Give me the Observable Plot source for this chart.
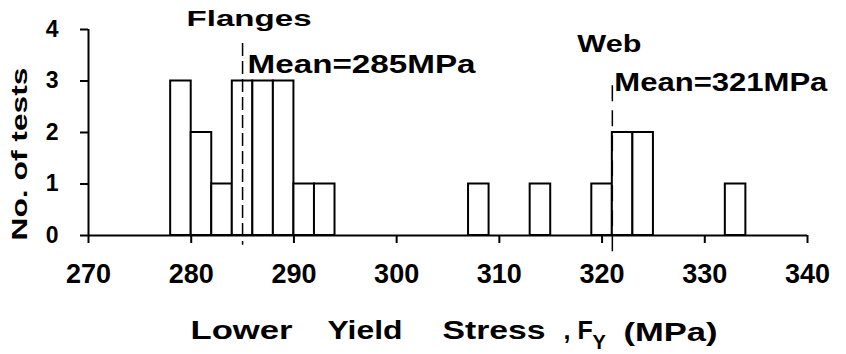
<!DOCTYPE html>
<html>
<head>
<meta charset="utf-8">
<script src="https://cdn.jsdelivr.net/npm/d3@7"></script>
<script src="https://cdn.jsdelivr.net/npm/@observablehq/plot@0.6"></script>
<style>
  html, body { margin: 0; padding: 0; background: white; }
</style>
</head>
<body>
<div id="chart"></div>
<script>
// ---- data ----
const binStart = [278, 280, 282, 284, 286, 288, 290, 292, 307, 313, 319, 321, 323, 332];
const counts   = [3, 2, 1, 3, 3, 3, 1, 1, 1, 1, 1, 2, 2, 1];
const binWidth = 2;
const groups = ["Flanges", "Web"];
const means = [285, 321];
const meanLabels = ["Mean=285MPa", "Mean=321MPa"];
const xTicks = [270, 280, 290, 300, 310, 320, 330, 340];
const yTicks = [0, 1, 2, 3, 4];
const xTitleParts = ["Lower", "Yield", "Stress", ",", "F", "Y", "(MPa)"];
const yTitle = "No. of tests";

const bars = binStart.map((s, i) => ({start: s, end: s + binWidth, count: counts[i]}));

const font = "'Liberation Sans', Arial, Helvetica, sans-serif";

// layout of the x title pieces: [dx from frame left, dy from frame bottom, fontSize]
const titleLayout = [
  [102, 103, 25], [239, 103, 25], [354, 103, 25], [475, 103, 25],
  [489, 103, 25], [504, 113, 20], [535, 105, 25]
];

const xTitleMarks = xTitleParts.map((t, i) => Plot.text([t], {
  frameAnchor: "bottom-left",
  dx: titleLayout[i][0], dy: titleLayout[i][1],
  fontSize: titleLayout[i][2], fontWeight: "bold",
  textAnchor: "start", lineAnchor: "bottom", fill: "black"
}));

const chart = Plot.plot({
  width: 846,
  height: 354,
  marginLeft: 88,
  marginRight: 39,
  marginTop: 29,
  marginBottom: 119,
  style: {fontFamily: font, background: "white", color: "black"},
  x: {domain: [270, 340]},
  y: {domain: [0, 4]},
  marks: [
    Plot.rectY(bars, {x1: "start", x2: "end", y: "count", fill: "white", stroke: "black", strokeWidth: 2}),
    Plot.ruleY([0], {x1: 270, x2: 340, stroke: "black", strokeWidth: 2}),
    Plot.ruleX([270], {y1: 0, y2: 4, stroke: "black", strokeWidth: 2}),
    Plot.axisX({ticks: xTicks, tickSize: 8, tickPadding: 20, fontSize: 27, fontWeight: "bold", strokeWidth: 2, label: null, tickFormat: d => String(d)}),
    Plot.axisY({ticks: yTicks, tickSize: 8, tickPadding: 22, fontSize: 23, fontWeight: "bold", strokeWidth: 2, label: null, tickFormat: d => String(d)}),
    // mean lines
    Plot.ruleX([means[0]], {y1: 3.73, y2: -0.19, stroke: "black", strokeWidth: 1.5, strokeDasharray: "13,5"}),
    Plot.ruleX([means[1]], {y1: 2.91, y2: -0.33, stroke: "black", strokeWidth: 1.5, strokeDasharray: "16,9"}),
    // group titles
    Plot.text([groups[0]], {x: means[0], y: 4.06, dx: -56, textAnchor: "start", lineAnchor: "bottom", fontSize: 22, fontWeight: "bold", fill: "black"}),
    Plot.text([groups[1]], {x: means[1], y: 3.57, dx: -35, textAnchor: "start", lineAnchor: "bottom", fontSize: 23, fontWeight: "bold", fill: "black"}),
    // mean labels
    Plot.text([meanLabels[0]], {x: means[0], y: 3.15, dx: 5, textAnchor: "start", lineAnchor: "bottom", fontSize: 25, fontWeight: "bold", fill: "black"}),
    Plot.text([meanLabels[1]], {x: means[1], y: 2.80, dx: 2, textAnchor: "start", lineAnchor: "bottom", fontSize: 25, fontWeight: "bold", fill: "black"}),
    // y title
    Plot.text([yTitle], {frameAnchor: "bottom-left", dx: -62, dy: 5, rotate: -90, textAnchor: "start", lineAnchor: "bottom", fontSize: 22, fontWeight: "bold", fill: "black"}),
    ...xTitleMarks
  ]
});

// stretch wide lettering to match the original's extended typeface
const stretch = new Map([
  ["Flanges", 125], ["Mean=285MPa", 228], ["Web", 64], ["Mean=321MPa", 213],
  ["No. of tests", 173], ["Lower", 102], ["Yield", 75], ["Stress", 103], ["(MPa)", 94]
]);
d3.select(chart).selectAll("text").each(function() {
  const L = stretch.get(this.textContent);
  if (L) {
    this.setAttribute("textLength", L);
    this.setAttribute("lengthAdjust", "spacingAndGlyphs");
  }
});

document.getElementById("chart").appendChild(chart);
</script>
</body>
</html>
